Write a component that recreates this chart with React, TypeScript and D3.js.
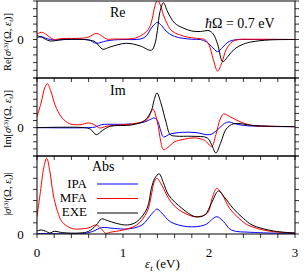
import React from 'react';
import * as d3 from 'd3';

type Pt = [number, number];

// photon energy grid is per-series; values in units of one y tick
const reIPA: Pt[] = [[0,0.23],[0.05,0.36],[0.12,0.1],[0.2,-0.06],[0.4,0.03],[0.6,-0.06],[0.69,-0.49],[0.8,-0.2],[0.9,-0.05],[1.0,0],[1.2,0.06],[1.27,0.45],[1.33,1.5],[1.37,2.0],[1.4,2.23],[1.45,1.8],[1.5,1.1],[1.6,0.4],[1.8,0.03],[1.9,0],[1.97,-0.3],[2.03,-0.9],[2.1,-1.58],[2.16,-1.0],[2.22,-0.35],[2.3,-0.05],[2.5,0],[3,0]];
const reMFA: Pt[] = [[0,0.68],[0.05,0.94],[0.1,0.7],[0.19,0.03],[0.3,0.13],[0.5,0.16],[0.6,0.32],[0.69,0.8],[0.76,0.4],[0.81,0.06],[0.9,0.06],[1.12,0.13],[1.2,0.45],[1.27,1.0],[1.31,1.6],[1.34,2.7],[1.37,4.3],[1.4,5.1],[1.43,4.6],[1.47,3.2],[1.52,1.9],[1.57,1.1],[1.7,0.45],[1.8,0.23],[1.9,0.1],[1.95,0],[2.0,-0.7],[2.05,-2.6],[2.1,-4.1],[2.15,-3.0],[2.2,-1.3],[2.27,-0.3],[2.35,0],[2.5,0.03],[3,0]];
const reEXE: Pt[] = [[0,0.49],[0.05,0.32],[0.15,-0.19],[0.3,0],[0.6,-0.06],[0.68,-0.32],[0.72,-0.84],[0.77,-1.27],[0.85,-0.97],[1.04,-0.49],[1.2,-0.84],[1.33,-1.4],[1.37,-0.6],[1.4,1.2],[1.43,3.6],[1.47,4.78],[1.52,3.57],[1.6,2.14],[1.7,1.49],[1.8,1.1],[1.9,1.04],[2.0,1.14],[2.05,0.7],[2.1,-0.6],[2.16,-2.88],[2.22,-2.2],[2.3,-1.2],[2.4,-0.6],[2.5,-0.3],[2.7,-0.06],[3,0]];

const imIPA: Pt[] = [[0,0],[0.6,0],[0.68,0.1],[0.75,0.42],[0.9,0.47],[1.1,0.5],[1.25,0.8],[1.33,1.23],[1.36,1.37],[1.4,1.0],[1.44,-0.5],[1.47,-1.31],[1.55,-0.9],[1.69,-0.66],[1.85,-0.7],[2.01,-0.99],[2.1,-0.3],[2.18,0.6],[2.23,0.8],[2.3,0.55],[2.4,0.32],[2.6,0.18],[3,0.14]];
const imMFA: Pt[] = [[0,1.5],[0.05,3.6],[0.09,5.6],[0.12,6.2],[0.16,5.2],[0.21,3.2],[0.29,1.4],[0.38,0.55],[0.5,0.42],[0.6,0.66],[0.67,0.4],[0.73,-0.05],[0.81,0.2],[1.0,0.42],[1.15,0.6],[1.28,1.13],[1.33,2.3],[1.35,2.6],[1.4,0.8],[1.44,-2.0],[1.47,-3.1],[1.52,-2.8],[1.6,-2.0],[1.69,-1.69],[1.84,-1.45],[1.95,-1.8],[2.03,-2.64],[2.08,-1.0],[2.13,1.2],[2.17,1.93],[2.25,1.5],[2.35,0.89],[2.5,0.32],[2.7,0.2],[3,0.14]];
const imEXE: Pt[] = [[0,0],[0.55,0],[0.62,-0.2],[0.69,-0.99],[0.76,-0.4],[0.85,0.19],[1.1,0.38],[1.25,1.0],[1.33,2.4],[1.36,3.8],[1.395,4.9],[1.44,3.5],[1.5,0.8],[1.55,-0.99],[1.62,-1.2],[1.8,-1.22],[1.98,-1.45],[2.03,-2.4],[2.08,-3.57],[2.14,-2.0],[2.2,-0.2],[2.29,0.56],[2.5,0.32],[2.7,0.2],[3,0.14]];

const absIPA: Pt[] = [[0,0.05],[0.55,0.05],[0.65,0.24],[0.75,0.57],[0.9,0.5],[1.05,0.45],[1.22,0.8],[1.33,1.77],[1.37,2.1],[1.395,2.24],[1.45,1.9],[1.55,1.1],[1.75,0.66],[1.95,0.81],[2.09,1.55],[2.17,1.1],[2.26,0.36],[2.5,0.15],[3,0.05]];
const absMFA: Pt[] = [[0,1.55],[0.04,3.8],[0.08,6.0],[0.113,6.8],[0.15,5.6],[0.19,3.5],[0.24,2.0],[0.29,1.1],[0.4,0.51],[0.5,0.45],[0.6,0.55],[0.69,0.81],[0.75,0.45],[0.8,0.05],[0.85,0.15],[1.0,0.36],[1.16,0.81],[1.28,2.0],[1.33,3.5],[1.36,4.6],[1.395,5.0],[1.45,4.4],[1.53,3.2],[1.6,2.5],[1.686,2.0],[1.84,1.55],[1.98,1.86],[2.04,3.3],[2.09,4.1],[2.15,3.6],[2.24,2.3],[2.35,1.4],[2.45,0.81],[2.69,0.27],[3,0.09]];
const absEXE: Pt[] = [[0,0.27],[0.05,0.36],[0.1,0.25],[0.15,0.09],[0.2,0.24],[0.3,0.12],[0.5,0.09],[0.6,0.24],[0.69,0.81],[0.75,1.35],[0.82,1.2],[0.92,0.96],[1.05,0.81],[1.16,1.1],[1.28,2.3],[1.33,4.1],[1.37,5.0],[1.42,5.4],[1.47,4.6],[1.53,3.5],[1.686,2.3],[1.84,1.55],[1.95,1.7],[2.03,2.8],[2.11,3.86],[2.18,3.3],[2.28,2.3],[2.4,1.4],[2.5,0.81],[2.75,0.27],[3,0.09]];

const methods = ['IPA', 'MFA', 'EXE'];
const colors = ['#0000ff', '#ff0000', '#000000'];
const xTickValues = [0, 1, 2, 3];
const xTickLabels = ['0', '1', '2', '3'];

const left = 37, right = 295;
const font = 'Liberation Serif, serif';

const panels = [
  { name: 'Re', top: 1, bottom: 78, domain: [-5, 5], series: [reIPA, reMFA, reEXE], title: 'Re', tx: 110, ty: 17 },
  { name: 'Im', top: 78, bottom: 156, domain: [-4, 7], series: [imIPA, imMFA, imEXE], title: 'Im', tx: 110, ty: 95 },
  { name: 'Abs', top: 156, bottom: 234, domain: [0, 7], series: [absIPA, absMFA, absEXE], title: 'Abs', tx: 92, ty: 171 },
];

const x = d3.scaleLinear().domain([0, 3]).range([left, right]);

function YLabel({ pre, post, cy }: { pre: string; post: string; cy: number }) {
  return (
    <text transform={`translate(9,${cy}) rotate(-90)`} textAnchor="middle" fontSize={10.5} fontFamily={font} dominantBaseline="middle">
      {pre}<tspan fontStyle="italic">σ</tspan>
      <tspan dy={-3.5} fontSize={7}>(3)</tspan>
      <tspan dy={3.5}>(Ω, </tspan><tspan fontStyle="italic">ε</tspan>
      <tspan dy={2} fontSize={7} fontStyle="italic">t</tspan>
      <tspan dy={-2}>){post}</tspan>
    </text>
  );
}

export default function App() {
  const minor = d3.range(0, 3.001, 0.2);
  return (
    <svg width={304} height={273} style={{ position: 'absolute', left: 0, top: 0, background: '#fff' }}>
      <defs>
        {panels.map(p => (
          <clipPath id={`clip-${p.name}`} key={p.name}>
            <rect x={left} y={p.top} width={right - left} height={p.bottom - p.top} />
          </clipPath>
        ))}
      </defs>
      {panels.map(p => {
        const y = d3.scaleLinear().domain(p.domain).range([p.bottom, p.top]);
        const line = d3.line<Pt>().x(d => x(d[0])).y(d => y(d[1])).curve(d3.curveCatmullRom.alpha(0.5));
        const yt = d3.range(p.domain[0], p.domain[1] + 0.001, 1);
        return (
          <g key={p.name}>
            <g clipPath={`url(#clip-${p.name})`}>
              {p.series.map((s, i) => (
                <path key={i} d={line(s) || ''} fill="none" stroke={colors[i]} strokeWidth={1} />
              ))}
            </g>
            <rect x={left} y={p.top} width={right - left} height={p.bottom - p.top} fill="none" stroke="#000" strokeWidth={1} />
            {yt.map(t => (
              <g key={t}>
                <line x1={left - 4} x2={left} y1={y(t)} y2={y(t)} stroke="#000" strokeWidth={0.8} />
                <line x1={right} x2={right + 4} y1={y(t)} y2={y(t)} stroke="#000" strokeWidth={0.8} />
              </g>
            ))}
            {minor.map(t => (
              <line key={t} x1={x(t)} x2={x(t)} y1={p.bottom} y2={p.bottom + 4} stroke="#000" strokeWidth={0.8} />
            ))}
            <text x={20.5} y={y(0) + 4.5} textAnchor="middle" fontSize={13} fontFamily={font}>0</text>
            <text x={p.tx} y={p.ty} fontSize={14} fontFamily={font}>{p.title}</text>
          </g>
        );
      })}
      <YLabel pre="Re[" post="]" cy={42} />
      <YLabel pre="Im[" post="]" cy={119} />
      <YLabel pre="|" post="|" cy={194} />
      <text x={205} y={28} fontSize={14} fontFamily={font}>
        <tspan fontStyle="italic">ħ</tspan>Ω = 0.7 eV
      </text>
      {methods.map((m, i) => (
        <g key={m}>
          <text x={87} y={188 + i * 14} textAnchor="end" fontSize={13} fontFamily={font}>{m}</text>
          <line x1={97} x2={138} y1={184 + i * 14.5} y2={184 + i * 14.5} stroke={colors[i]} strokeWidth={1} />
        </g>
      ))}
      {xTickValues.map((v, i) => (
        <text key={v} x={x(v)} y={257} textAnchor="middle" fontSize={13} fontFamily={font}>{xTickLabels[i]}</text>
      ))}
      <text x={145} y={268} fontSize={13} fontFamily={font}>
        <tspan fontStyle="italic">ε</tspan>
        <tspan dy={2.5} fontSize={9} fontStyle="italic">t</tspan>
        <tspan dy={-2.5}> (eV)</tspan>
      </text>
    </svg>
  );
}
